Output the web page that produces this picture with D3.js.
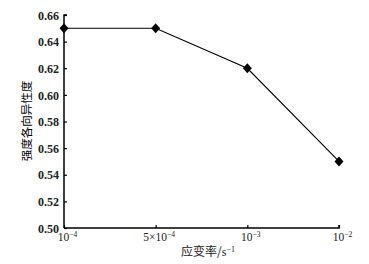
<!DOCTYPE html>
<html><head><meta charset="utf-8">
<script src="https://cdn.jsdelivr.net/npm/d3@7"></script>
<style>body{margin:0;background:#fff}svg{display:block}</style>
</head><body>
<script>
const categories = ["1e-4","5e-4","1e-3","1e-2"];
const tickLabels = [["10","−4"],["5×10","−4"],["10","−3"],["10","−2"]];
const values = [0.65, 0.65, 0.62, 0.55];
const yTicks = [0.50,0.52,0.54,0.56,0.58,0.60,0.62,0.64,0.66];

const W=369,H=264;
const svg=d3.select("body").append("svg").attr("width",W).attr("height",H);
const x=d3.scalePoint().domain(categories).range([64,339]);
const y=d3.scaleLinear().domain([0.50,0.66]).range([228,15]);
const font="'Liberation Serif','Times New Roman',serif";

const ya=svg.append("g").attr("transform","translate(64,0)")
  .call(d3.axisRight(y).tickValues(yTicks).tickSize(3).tickFormat(d3.format(".2f")));
ya.select(".domain").attr("d","M3,15H0V228").attr("stroke","#000").attr("stroke-width",1.5);
ya.selectAll(".tick line").attr("stroke","#000").attr("stroke-width",1.2);
ya.selectAll(".tick text").attr("x",-5).attr("text-anchor","end").attr("dy","0.35em")
  .attr("font-family",font).attr("font-size",12).attr("font-weight","bold").attr("fill","#222");

const xa=svg.append("g").attr("transform","translate(0,228)")
  .call(d3.axisTop(x).tickSize(3).tickFormat(""));
xa.select(".domain").attr("d","M64,0H339V-3").attr("stroke","#000").attr("stroke-width",1.5);
xa.selectAll(".tick line").attr("stroke","#000").attr("stroke-width",1.2);
xa.selectAll(".tick").each(function(d,i){
  const t=d3.select(this).append("text").attr("x",3).attr("y",13).attr("text-anchor","middle")
    .attr("font-family",font).attr("font-size",11.5).attr("fill","#222");
  t.append("tspan").text(tickLabels[i][0]);
  t.append("tspan").attr("dy",-4).attr("font-size",7.5).text(tickLabels[i][1]);
});

svg.append("path").datum(values)
  .attr("d",d3.line().x((d,i)=>x(categories[i])).y(d=>y(d)))
  .attr("fill","none").attr("stroke","#000").attr("stroke-width",1.1);
svg.selectAll(".pt").data(values).join("path")
  .attr("transform",(d,i)=>`translate(${x(categories[i])},${y(d)})`)
  .attr("d","M0,-5L4.5,0L0,5L-4.5,0Z").attr("fill","#000");

const xt=svg.append("text").attr("x",208).attr("y",256).attr("text-anchor","middle")
  .attr("font-size",12).attr("fill","#222");
xt.append("tspan").attr("font-family","'Noto Sans CJK SC'").text("应变率/");
xt.append("tspan").attr("font-family",font).text("s");
xt.append("tspan").attr("font-family",font).attr("dy",-4).attr("font-size",8).text("−1");

svg.append("text").attr("transform","translate(31,121) rotate(-90)").attr("text-anchor","middle")
  .attr("font-family","'Noto Sans CJK SC'").attr("font-size",11.5).attr("fill","#000")
  .text("强度各向异性度");
</script>
</body></html>
